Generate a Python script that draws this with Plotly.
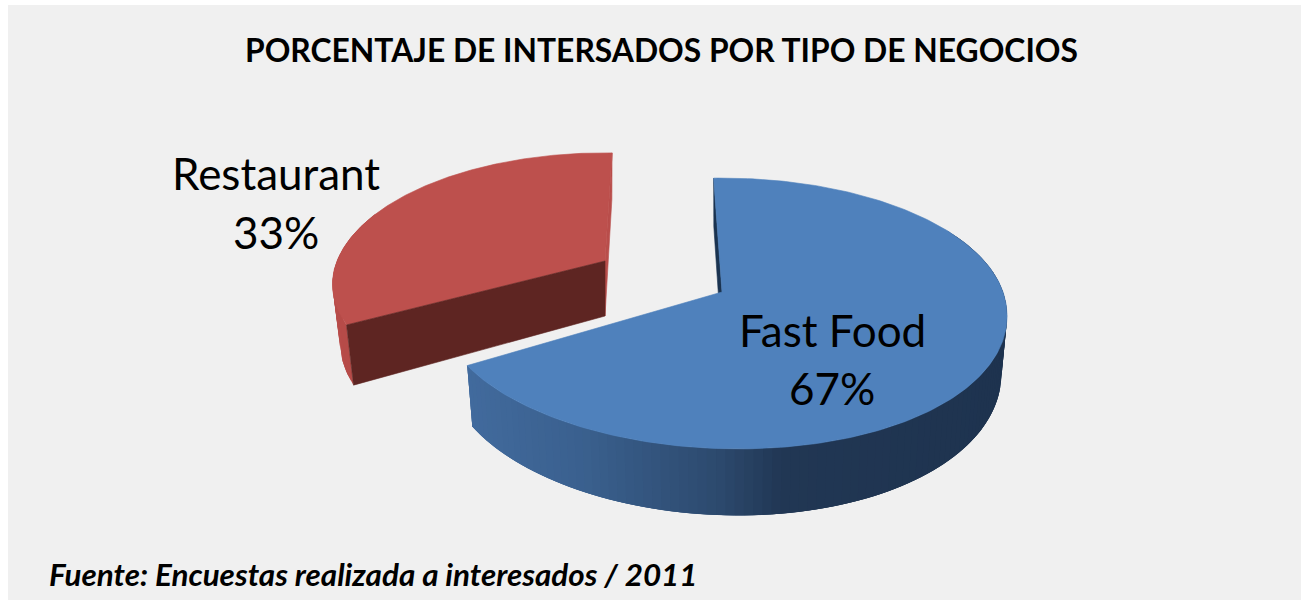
import numpy as np
import plotly.graph_objects as go

# data
categories = ["Fast Food", "Restaurant"]
values = [67, 33]
title_text = "PORCENTAJE DE INTERSADOS POR TIPO DE NEGOCIOS"
source_text = "Fuente: Encuestas realizada a interesados / 2011"

total = sum(values)
sweep = [360.0 * v / total for v in values]

# view geometry of each exploded slice (tilted perspective disc)
view = {
    "Fast Food": dict(cx=722, cy=292, al=277, ar=281, a=132, b=0.1587, t=56, sq=0.98, start=-2.0, sk=16),
    "Restaurant": dict(cx=605, cy=261, al=268, ar=268, a=128.7, b=0.19, t=55, sq=0.973, start=243.0, sk=14),
}
style = {
    "Fast Food": dict(top="#4f81bc", inner="#1a3350"),
    "Restaurant": dict(top="#bd504d", inner="#b94e4b", face="#5e2522"),
}


def project(v, deg, r=1.0, lower=False):
    th = np.radians(deg)
    X = r * np.sin(th)
    Y = -r * np.cos(th)
    s = 1 / (1 - v["b"] * Y)
    A = np.where(X > 0, v["ar"], v["al"])
    x = A * X * s + v["sk"] * np.maximum(Y, 0) ** 2
    y = v["a"] * Y * s
    if lower:
        x = x * v["sq"]
        y = y + v["t"] * s
    return v["cx"] + x, v["cy"] + y


def lerp_color(stops, x):
    xs = [p[0] for p in stops]
    rgb = [np.interp(x, xs, [p[1][i] for p in stops]) for i in range(3)]
    return "rgb(%d,%d,%d)" % tuple(int(round(c)) for c in rgb)


blue_wall = [(467, (66, 107, 158)), (600, (58, 96, 142)), (740, (44, 73, 109)),
             (800, (33, 55, 84)), (1007, (30, 51, 79))]
red_wall = [(330, (186, 78, 75)), (360, (178, 72, 70))]

fig = go.Figure()


def poly(xs, ys, color, width=0.6):
    fig.add_trace(go.Scatter(
        x=list(xs), y=list(ys), mode="lines", fill="toself", fillcolor=color,
        line=dict(color=color, width=width), hoverinfo="skip", showlegend=False))


def wall(v, a0, a1, stops, n=70):
    # painted from a1 back to a0, each band running on under the band after it
    edges = np.linspace(a0, a1, n + 1)
    step = edges[1] - edges[0]
    for d0, d1 in zip(edges[:-1][::-1], edges[1:][::-1]):
        d2 = min(d1 + 2 * step, a1)
        arc = np.linspace(d0, d2, 6)
        xt, yt = project(v, arc)
        xb, yb = project(v, arc[::-1], lower=True)
        cx0, _ = project(v, d0)
        cx1, _ = project(v, d1)
        poly(np.r_[xt, xb, xt[0]], np.r_[yt, yb, yt[0]],
             lerp_color(stops, (cx0 + cx1) / 2), width=0)


def radial_face(v, deg, color):
    rx, ry = project(v, deg)
    rx2, ry2 = project(v, deg, lower=True)
    ax, ay = project(v, deg, r=0.0)
    ax2, ay2 = project(v, deg, r=0.0, lower=True)
    poly([ax, rx, rx2, ax2, ax], [ay, ry, ry2, ay2, ay], color)


def top_face(v, a0, a1, color):
    deg = np.linspace(a0, a1, 240)
    x, y = project(v, deg)
    ax, ay = project(v, a0, r=0.0)
    poly(np.r_[ax, x, ax], np.r_[ay, y, ay], color)


# Restaurant slice
v = view["Restaurant"]
s = style["Restaurant"]
a0 = v["start"]
a1 = a0 + sweep[1]
wall(v, a0, a0 + 50, red_wall, n=30)
radial_face(v, a1, s["inner"])
top_face(v, a0, a1, s["top"])
radial_face(v, a0, s["face"])

# Fast Food slice
v = view["Fast Food"]
s = style["Fast Food"]
a0 = v["start"]
a1 = a0 + sweep[0]
radial_face(v, a0, s["inner"])
wall(v, 60, a1, blue_wall, n=110)
top_face(v, a0, a1, s["top"])

ann_font = dict(family="Lato, Carlito, sans-serif", color="#000000")
anns = [
    dict(x=661, y=50, text="<b>%s</b>" % title_text, font=dict(size=31.8, **ann_font)),
    dict(x=276, y=173, text=categories[1], font=dict(size=44, **ann_font)),
    dict(x=276, y=232, text="%d%%" % values[1], font=dict(size=44, **ann_font)),
    dict(x=832, y=330, text=categories[0], font=dict(size=44, **ann_font)),
    dict(x=832, y=388, text="%d%%" % values[0], font=dict(size=44, **ann_font)),
    dict(x=47, y=574, text="<b><i>%s</i></b>" % source_text, xanchor="left",
         font=dict(size=31.4, **ann_font)),
]
for a in anns:
    a.setdefault("xanchor", "center")
    a.update(yanchor="middle", showarrow=False, xref="x", yref="y")

fig.update_layout(
    width=1301, height=600, margin=dict(l=0, r=0, t=0, b=0),
    paper_bgcolor="#ffffff", plot_bgcolor="#ffffff", showlegend=False,
    xaxis=dict(range=[0, 1301], visible=False, fixedrange=True),
    yaxis=dict(range=[600, 0], visible=False, fixedrange=True),
    annotations=anns,
    shapes=[dict(type="rect", xref="x", yref="y", x0=8, x1=1301, y0=5, y1=600,
                 fillcolor="#f0f0f0", line_width=0, layer="below")],
)
fig.write_html("out.html", config={"displayModeBar": False},
               post_script="document.body.style.margin='0';document.body.style.overflow='hidden';")
